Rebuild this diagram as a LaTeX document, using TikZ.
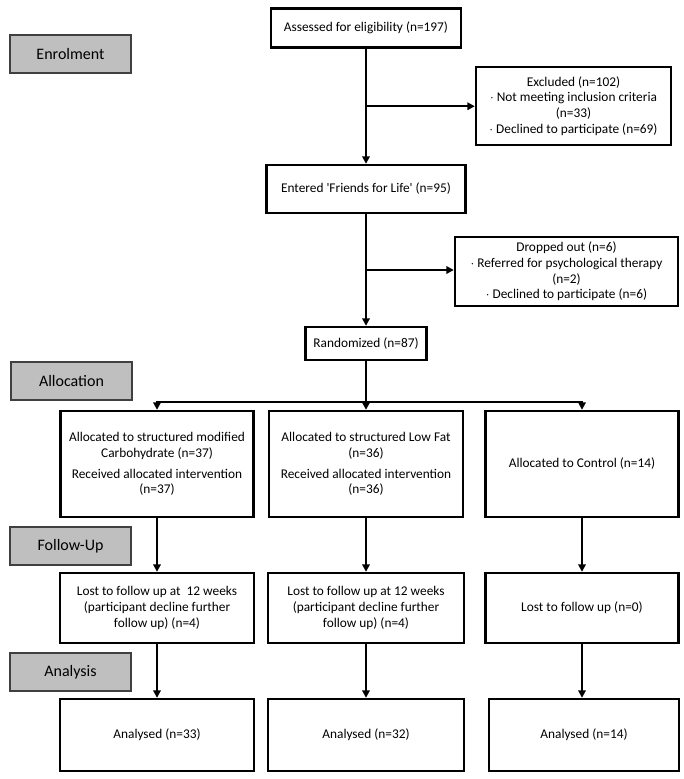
\documentclass[tikz,border=0pt]{standalone}
\usepackage{fontspec}
\setmainfont{Carlito}
\usetikzlibrary{arrows.meta,calc}
\begin{document}
\begin{tikzpicture}[x=0.75pt,y=-0.75pt,
  bx/.style 2 args={draw=black,line width=1.8pt,fill=white,inner sep=1pt,align=center,
     minimum width=#1*0.75pt,minimum height=#2*0.75pt,font=\fontsize{10}{11.8}\selectfont},
  side/.style={draw=black!75,line width=0.8pt,fill=black!25,inner sep=0pt,
     minimum width=121*0.75pt,minimum height=38*0.75pt,font=\fontsize{12}{14}\selectfont},
  arr/.style={line width=1.8pt,-{Triangle[length=5.5pt,width=5.5pt]}},
  ln/.style={line width=1.8pt}]
\useasboundingbox (0,0) rectangle (684,779);
% side labels
\node[side] (enrol) at (70.5,54) {Enrolment};
\node[side] (alloc) at (71.5,381) {Allocation};
\node[side] (follow) at (70.5,546) {Follow-Up};
\node[side] (analysis) at (70.5,672) {Analysis};
% main column
\node[bx={190}{39}] (assess) at (366,28) {Assessed for eligibility (n=197)};
\node[bx={195}{78}] (excl) at (573.5,106) {Excluded (n=102)\\$\cdot$ Not meeting inclusion criteria\\(n=33)\\$\cdot$ Declined to participate (n=69)};
\node[bx={199}{48}] (entered) at (366,189) {Entered \textquotesingle Friends for Life\textquotesingle\ (n=95)};
\node[bx={223}{69}] (drop) at (566.5,271.5) {Dropped out (n=6)\\$\cdot$ Referred for psychological therapy\\(n=2)\\$\cdot$ Declined to participate (n=6)};
\node[bx={121}{33}] (rand) at (366,343.5) {Randomized (n=87)};
% row 1
\node[bx={193}{106}] (a1) at (157,464) {Allocated to structured modified\\Carbohydrate (n=37)\\[4pt]Received allocated intervention\\(n=37)};
\node[bx={194}{106}] (a2) at (366,464) {Allocated to structured Low Fat\\(n=36)\\[4pt]Received allocated intervention\\(n=36)};
\node[bx={193}{106}] (a3) at (582,464) {Allocated to Control (n=14)};
% row 2
\node[bx={194}{70}] (l1) at (157,608) {Lost to follow up at\ \ 12 weeks\\(participant decline further\\follow up) (n=4)};
\node[bx={196}{70}] (l2) at (366,608) {Lost to follow up at 12 weeks\\(participant decline further\\follow up) (n=4)};
\node[bx={193}{70}] (l3) at (582,608) {Lost to follow up (n=0)};
% row 3
\node[bx={194}{72}] (an1) at (157,735) {Analysed (n=33)};
\node[bx={196}{72}] (an2) at (366,735) {Analysed (n=32)};
\node[bx={190}{72}] (an3) at (584,735) {Analysed (n=14)};
% connectors
\draw[arr] (assess) -- (entered);
\coordinate (b1) at ($(assess.south)!0.5!(entered.north)$);
\draw[arr] (b1) -- (b1 -| excl.west);
\draw[arr] (entered) -- (rand);
\coordinate (b2) at ($(entered.south)!0.5!(rand.north)$);
\draw[arr] (b2) -- (b2 -| drop.west);
\coordinate (bus) at (366,402);
\draw[ln] (rand.south) -- (bus);
\draw[arr] (bus) -| (a1.north);
\draw[arr] (bus) -- (a2.north);
\draw[arr] (bus) -| (a3.north);
\draw[arr] (a1) -- (l1);
\draw[arr] (a2) -- (l2);
\draw[arr] (a3) -- (l3);
\draw[arr] (l1) -- (an1);
\draw[arr] (l2) -- (an2);
\draw[arr] (l3.south) -- (l3.south |- an3.north);
\end{tikzpicture}
\end{document}
